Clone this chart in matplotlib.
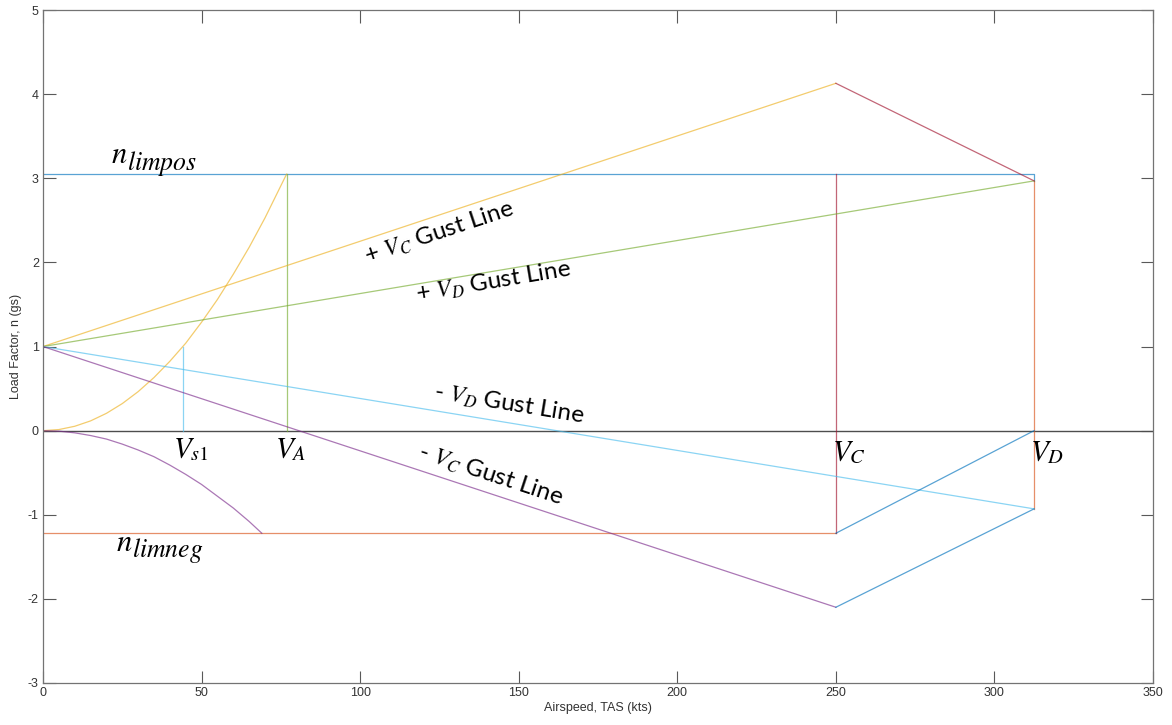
import numpy as np
import matplotlib
matplotlib.use("Agg")
from matplotlib import pyplot as plt

plt.rcParams['mathtext.fontset'] = 'stix'
plt.rcParams['font.family'] = ['Liberation Sans', 'DejaVu Sans']
plt.rcParams['axes.unicode_minus'] = False

# key speeds (kts)
v_s1 = 44.0
v_a = 76.8
v_c = 250.0
v_d = 312.5

# load limits
n_limpos = 3.05
n_limneg = -1.22

# gust line end values at Vc and Vd
gust_pos_vc = 4.13
gust_pos_vd = 2.97
gust_neg_vd = -0.93
gust_neg_vc = -2.10

# stall curves
stall_pos_v = [0, 5, 10, 15, 20, 25, 30, 35, 40, 45, 50, 55, 60, 65, 70, 76.8]
stall_pos_n = [0, 0.013, 0.052, 0.116, 0.206, 0.322, 0.464, 0.632, 0.825,
               1.04, 1.29, 1.56, 1.86, 2.18, 2.53, 3.05]
stall_neg_v = [0, 5, 10, 15, 20, 25, 30, 35, 40, 45, 50, 55, 60, 65, 69]
stall_neg_n = [0, -0.006, -0.026, -0.058, -0.10, -0.16, -0.23, -0.31, -0.41,
               -0.52, -0.64, -0.78, -0.92, -1.08, -1.22]

# matlab default colour order
c_blue = (0, 0.447, 0.741)
c_orange = (0.850, 0.325, 0.098)
c_yellow = (0.929, 0.694, 0.125)
c_purple = (0.494, 0.184, 0.556)
c_green = (0.466, 0.674, 0.188)
c_lblue = (0.301, 0.745, 0.933)
c_red = (0.635, 0.078, 0.184)

fig = plt.figure(figsize=(11.72, 7.25), dpi=100)
ax = fig.add_axes([0.0367, 0.058, 0.9471, 0.928])
lw = 0.9
al = 0.65

ax.plot([0, 350], [0, 0], color='0.3', lw=1.0)
ax.plot([0, v_d, v_d], [n_limpos, n_limpos, gust_pos_vd], color=c_blue, lw=lw, alpha=al)
ax.plot([0, v_c], [n_limneg, n_limneg], color=c_orange, lw=lw, alpha=al)
ax.plot(stall_pos_v, stall_pos_n, color=c_yellow, lw=lw, alpha=al)
ax.plot(stall_neg_v, stall_neg_n, color=c_purple, lw=lw, alpha=al)
ax.plot([v_a, v_a], [0, n_limpos], color=c_green, lw=lw, alpha=al)
ax.plot([v_s1, v_s1], [0, 1], color=c_lblue, lw=lw, alpha=al)
ax.plot([v_c, v_c], [n_limneg, n_limpos], color=c_red, lw=lw, alpha=al)
ax.plot([v_d, v_d], [gust_neg_vd, gust_pos_vd], color=c_orange, lw=lw, alpha=al)

# gust lines
ax.plot([0, v_c], [1, gust_pos_vc], color=c_yellow, lw=lw, alpha=al)
ax.plot([0, v_d], [1, gust_pos_vd], color=c_green, lw=lw, alpha=al)
ax.plot([0, v_d], [1, gust_neg_vd], color=c_lblue, lw=lw, alpha=al)
ax.plot([0, v_c], [1, gust_neg_vc], color=c_purple, lw=lw, alpha=al)

# envelope closing lines
ax.plot([v_c, v_d], [gust_pos_vc, gust_pos_vd], color=c_red, lw=lw, alpha=al)
ax.plot([v_c, v_d], [n_limneg, 0], color=c_blue, lw=lw, alpha=al)
ax.plot([v_c, v_d], [gust_neg_vc, gust_neg_vd], color=c_blue, lw=lw, alpha=al)

ax.set_xlim(0, 350)
ax.set_ylim(-3, 5)
ax.set_xticks(range(0, 351, 50))
ax.set_yticks(range(-3, 6))
ax.tick_params(direction='in', top=True, right=True, length=9, width=0.8,
               labelsize=9, colors='0.35', labelcolor='0.2', pad=3)
for s in ax.spines.values():
    s.set_color('0.45')
    s.set_linewidth(0.9)
ax.set_xlabel('Airspeed, TAS (kts)', fontsize=9, color='0.2', labelpad=2)
ax.set_ylabel('Load Factor, n (gs)', fontsize=9, color='0.2', labelpad=4)

fig.canvas.draw()


def angle(x0, y0, x1, y1):
    p0 = ax.transData.transform((x0, y0))
    p1 = ax.transData.transform((x1, y1))
    return np.degrees(np.arctan2(p1[1] - p0[1], p1[0] - p0[0]))


gfont = dict(fontsize=17.5, family=['Lato', 'DejaVu Sans'], ha='center', va='center',
             rotation_mode='anchor')
ax.text(125, 2.35, '+ $V_C$ Gust Line', rotation=angle(0, 1, v_c, gust_pos_vc), **gfont)
ax.text(142, 1.77, '+ $V_D$ Gust Line', rotation=angle(0, 1, v_d, gust_pos_vd), **gfont)
ax.text(147, 0.31, '- $V_D$ Gust Line', rotation=angle(0, 1, v_d, gust_neg_vd), **gfont)
ax.text(141, -0.53, '- $V_C$ Gust Line', rotation=angle(0, 1, v_c, gust_neg_vc), **gfont)


def n_label(x, y, sub):
    # n with a larger italic subscript than mathtext gives
    t = ax.text(x, y, '$n$', fontsize=22, ha='left', va='baseline')
    ax.annotate('$' + sub + '$', xy=(1, 0), xycoords=t, xytext=(-0.5, 0.5),
                textcoords='offset points', fontsize=18.5, ha='left', va='baseline')


n_label(21.5, 3.18, 'limpos')
n_label(23, -1.43, 'limneg')

mfont = dict(fontsize=21, ha='center', va='center')
ax.text(46.5, -0.22, '$V_{s1}$', **mfont)
ax.text(78, -0.22, '$V_A$', **mfont)
ax.text(254, -0.26, '$V_C$', **mfont)
ax.text(316.5, -0.26, '$V_D$', **mfont)

fig.savefig('out.png', dpi=100)
